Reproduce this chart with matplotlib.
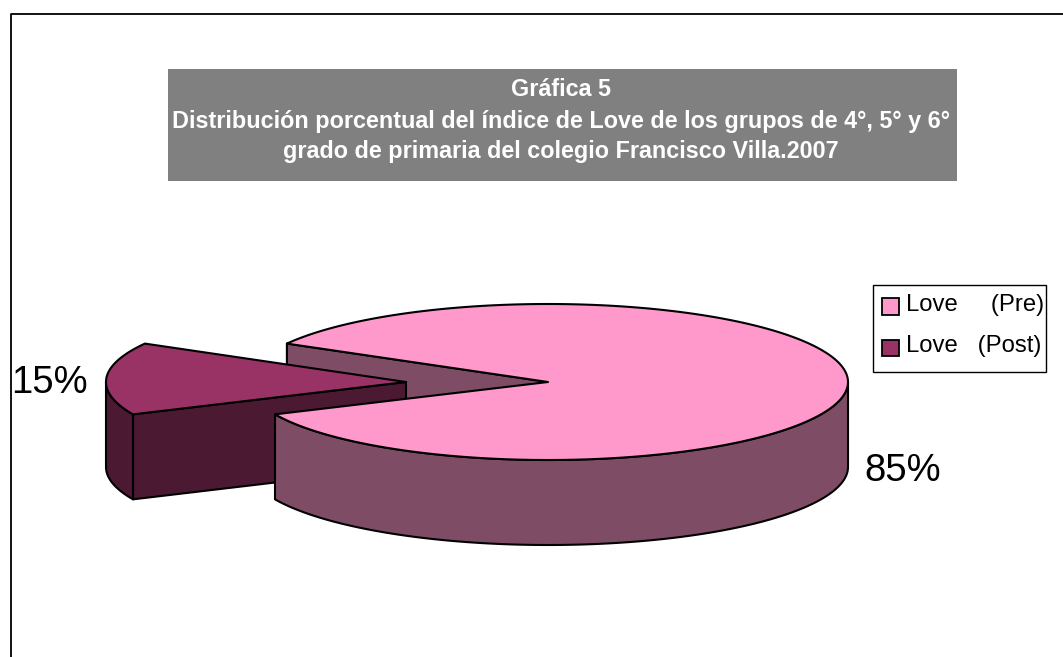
import numpy as np
import matplotlib
matplotlib.use("Agg")
import matplotlib.pyplot as plt
from matplotlib.patches import Polygon, Rectangle
from matplotlib.legend_handler import HandlerPatch

labels = ["Love     (Pre)", "Love   (Post)"]
values = [85, 15]
pct_labels = ["85%", "15%"]
title_lines = ["Gráfica 5",
               "Distribución porcentual del índice de Love de los grupos de 4°, 5° y 6°",
               "grado de primaria del colegio Francisco Villa.2007"]
colors = ["#FF99CC", "#993366"]
side_colors = ["#7F4C66", "#4C1933"]

W, H = 1063, 657
CX, CY, RX, RY, DEPTH = 548, 382, 300, 78, 85
EXPLODE = 142
START = 150.5  # angle where the small slice begins

plt.rcParams["font.family"] = ["Liberation Sans", "DejaVu Sans"]
fig = plt.figure(figsize=(W / 100, H / 100), dpi=100, facecolor="white")
ax = fig.add_axes([0, 0, 1, 1])
ax.set_xlim(0, W)
ax.set_ylim(H, 0)
ax.axis("off")

LW = 1.5
def arc(t0, t1, cx, cy):
    t = np.radians(np.linspace(t0, t1, 240))
    return np.column_stack([cx + RX * np.cos(t), cy - RY * np.sin(t)])

def poly(pts, fc, z, lw=LW):
    ax.add_patch(Polygon(pts, closed=True, facecolor=fc, edgecolor="black",
                         linewidth=lw, joinstyle="round", zorder=z))

sweep_small = 360.0 * values[1] / sum(values)
a0, a1 = START, START + sweep_small          # small slice
b0, b1 = a1, START + 360.0                   # large slice

# frame of the chart area: top and left edges only are inside the picture
ax.plot([10.5, 10.5, W + 2], [H + 2, 13.5, 13.5], color="black", lw=1.3, zorder=1)

# title box
ax.add_patch(Rectangle((168, 69), 789, 112, facecolor="#808080", edgecolor="none", zorder=2))
for y, line in zip([96, 128, 158], title_lines):
    ax.text(561, y, line, color="white", fontsize=16.8, fontweight="bold",
            ha="center", va="baseline", zorder=3)

# inner wall of large slice visible in the gap
p = arc(b1, b1, CX, CY)[0]
poly([(CX, CY), p, (p[0], p[1] + DEPTH), (CX, CY + DEPTH)], side_colors[0], 3)

# exploded small slice
sx = CX - EXPLODE
p0 = arc(a1, a1, sx, CY)[0]
poly([(sx, CY), p0, (p0[0], p0[1] + DEPTH), (sx, CY + DEPTH)], side_colors[1], 4)
outer = arc(180, a1, sx, CY)
poly(np.vstack([outer, (outer + [0, DEPTH])[::-1]]), side_colors[1], 5)
poly(np.vstack([[(sx, CY)], arc(a0, a1, sx, CY)]), colors[1], 6)

# large slice
outer = arc(b0, 360, CX, CY)
poly(np.vstack([outer, (outer + [0, DEPTH])[::-1]]), side_colors[0], 7)
poly(np.vstack([[(CX, CY)], arc(b0, b1, CX, CY)]), colors[0], 8)

# percent labels
ax.text(903, 481, pct_labels[0], fontsize=27.5, ha="center", va="baseline", color="black", zorder=9)
ax.text(49.5, 393, pct_labels[1], fontsize=27.5, ha="center", va="baseline", color="black", zorder=9)

# legend
ax.add_patch(Rectangle((872.5, 284.5), 173, 87, facecolor="white", edgecolor="black",
                       linewidth=1.0, zorder=10))
handles = [Rectangle((0, 0), 1, 1, facecolor=c, edgecolor="black", linewidth=1.3) for c in colors]

def low_swatch(legend, orig_handle, xdescent, ydescent, width, height, fontsize):
    return Rectangle((-xdescent, -ydescent - 3), width, height)

leg = ax.legend(handles, labels, loc="upper left", bbox_to_anchor=(882, 294),
                bbox_transform=ax.transData, fontsize=17.2, frameon=False,
                handlelength=0.7, handleheight=0.7,
                handletextpad=0.3, labelspacing=0.8, borderpad=0, borderaxespad=0,
                handler_map={Rectangle: HandlerPatch(patch_func=low_swatch)})
leg.set_zorder(11)

fig.savefig("out.png", dpi=100, facecolor="white")
